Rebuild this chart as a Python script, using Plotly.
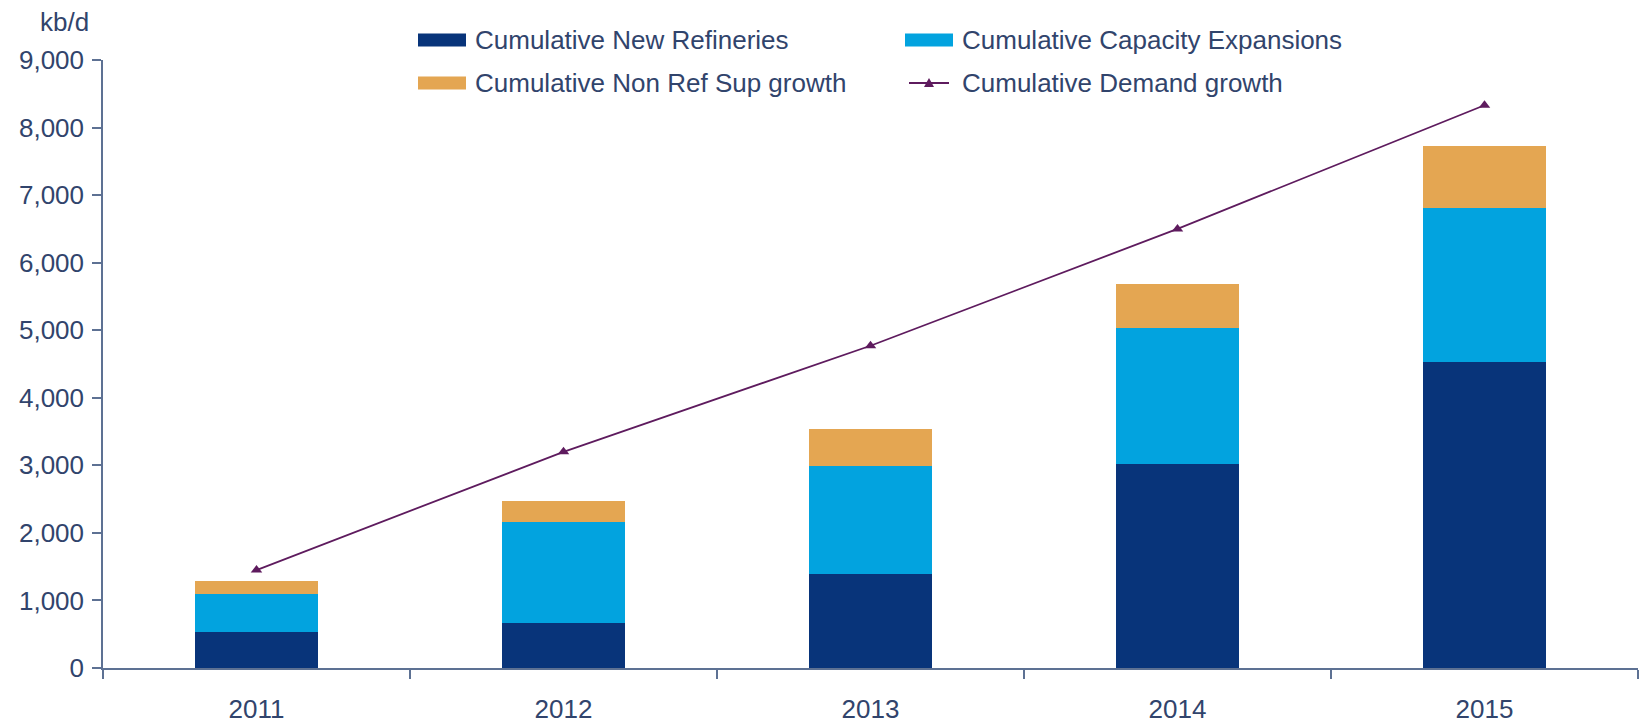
import plotly.graph_objects as go

# Data (kb/d)
years = ["2011", "2012", "2013", "2014", "2015"]
new_refineries = [530, 665, 1390, 3020, 4525]
capacity_expansions = [565, 1495, 1600, 2010, 2280]
non_ref_sup_growth = [195, 310, 545, 650, 915]
demand_growth = [1450, 3200, 4770, 6500, 8330]

series_names = [
    "Cumulative New Refineries",
    "Cumulative Capacity Expansions",
    "Cumulative Non Ref Sup growth",
    "Cumulative Demand growth",
]

NAVY = "#08347a"
SKY = "#02a3df"
SAND = "#e4a652"
PLUM = "#5e1b5e"
TEXT = "#31446c"
AXIS = "#5d7193"
FONT = "Liberation Sans, Arial, sans-serif"

W, H = 1646, 724
ML, MR, MT, MB = 103, 8, 60, 56
PW, PH = W - ML - MR, H - MT - MB


def px_x(x):
    return (x - ML) / PW


def px_y(y):
    return (H - MB - y) / PH


fig = go.Figure()
fig.add_trace(go.Bar(x=years, y=new_refineries, name=series_names[0],
                     marker=dict(color=NAVY, line=dict(width=0))))
fig.add_trace(go.Bar(x=years, y=capacity_expansions, name=series_names[1],
                     marker=dict(color=SKY, line=dict(width=0))))
fig.add_trace(go.Bar(x=years, y=non_ref_sup_growth, name=series_names[2],
                     marker=dict(color=SAND, line=dict(width=0))))
fig.add_trace(go.Scatter(x=years, y=demand_growth, name=series_names[3],
                         mode="lines+markers",
                         line=dict(color=PLUM, width=1.8),
                         marker=dict(symbol="triangle-up", size=10, color=PLUM)))

# Legend drawn as a 2x2 grid above the plot
shapes = []
annotations = []
legend_rows = [40, 83]
legend_cols = [(418, 466), (905, 953)]
swatch_colors = [NAVY, SKY, SAND, None]
for i, name in enumerate(series_names):
    r, c = divmod(i, 2)
    yc = legend_rows[r]
    x0, x1 = legend_cols[c]
    if swatch_colors[i] is not None:
        shapes.append(dict(type="rect", xref="paper", yref="paper",
                           x0=px_x(x0), x1=px_x(x1),
                           y0=px_y(yc + 6.5), y1=px_y(yc - 6.5),
                           fillcolor=swatch_colors[i], line=dict(width=0)))
    else:
        shapes.append(dict(type="line", xref="paper", yref="paper",
                           x0=px_x(x0 + 4), x1=px_x(x1 - 4),
                           y0=px_y(yc), y1=px_y(yc),
                           line=dict(color=PLUM, width=1.8)))
        xm = (x0 + x1) / 2
        shapes.append(dict(type="path", xref="paper", yref="paper",
                           path=f"M {px_x(xm - 5)} {px_y(yc + 4)} L {px_x(xm + 5)} {px_y(yc + 4)} "
                                f"L {px_x(xm)} {px_y(yc - 5)} Z",
                           fillcolor=PLUM, line=dict(width=0)))
    annotations.append(dict(text=name, xref="paper", yref="paper",
                            x=px_x(x1 + 7), y=px_y(yc), xanchor="left", yanchor="middle",
                            showarrow=False, font=dict(size=26, color=TEXT, family=FONT)))

annotations.append(dict(text="kb/d", xref="paper", yref="paper",
                        x=px_x(64), y=px_y(22), xanchor="center", yanchor="middle",
                        showarrow=False, font=dict(size=26, color=TEXT, family=FONT)))

fig.update_layout(
    width=W, height=H,
    margin=dict(l=ML, r=MR, t=MT, b=MB, autoexpand=False),
    barmode="stack",
    bargap=0.6,
    showlegend=False,
    plot_bgcolor="white",
    paper_bgcolor="white",
    font=dict(family=FONT, size=26, color=TEXT),
    shapes=shapes,
    annotations=annotations,
    xaxis=dict(
        showline=True, linecolor=AXIS, linewidth=1.5, automargin=False,
        ticks="outside", tickson="boundaries", ticklen=9, tickcolor=AXIS, tickwidth=1.5,
        showgrid=False, zeroline=False, ticklabelstandoff=17,
        tickfont=dict(size=26, color=TEXT, family=FONT),
    ),
    yaxis=dict(
        range=[0, 9000], dtick=1000, tickformat=",",
        showline=True, linecolor=AXIS, linewidth=1.5, automargin=False,
        ticks="outside", ticklen=9, tickcolor=AXIS, tickwidth=1.5,
        showgrid=False, zeroline=False, ticklabelstandoff=3,
        tickfont=dict(size=26, color=TEXT, family=FONT),
    ),
)

fig.write_html("out.html")
